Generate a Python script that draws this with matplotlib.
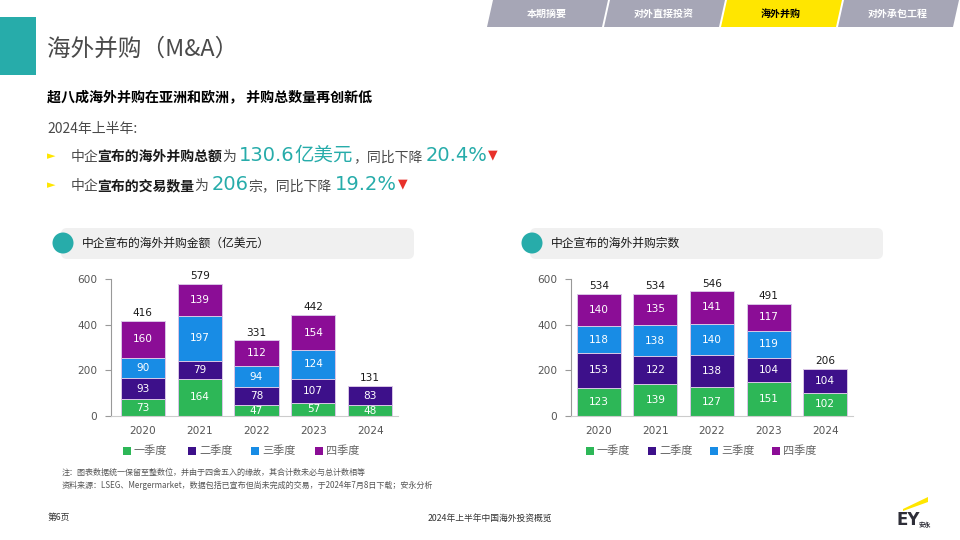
import matplotlib
matplotlib.use("Agg")
import matplotlib.pyplot as plt
from matplotlib.patches import Polygon, Rectangle, FancyBboxPatch, Circle

plt.rcParams['font.family'] = ['Noto Sans CJK SC', 'DejaVu Sans']

# data
years = ['2020', '2021', '2022', '2023', '2024']
quarters = ['一季度', '二季度', '三季度', '四季度']
amount_q1 = [73, 164, 47, 57, 48]
amount_q2 = [93, 79, 78, 107, 83]
amount_q3 = [90, 197, 94, 124, 0]
amount_q4 = [160, 139, 112, 154, 0]
amount_total = [416, 579, 331, 442, 131]
deals_q1 = [123, 139, 127, 151, 102]
deals_q2 = [153, 122, 138, 104, 104]
deals_q3 = [118, 138, 140, 119, 0]
deals_q4 = [140, 135, 141, 117, 0]
deals_total = [534, 534, 546, 491, 206]

colors = ['#2DB757', '#3D108A', '#188CE5', '#8B0D96']
TEAL = '#27ACAA'
GRAY = '#4A4A4A'
NUM = ['DejaVu Sans', 'Noto Sans CJK SC']
W, H = 960, 540

fig = plt.figure(figsize=(9.6, 5.4), dpi=100)
bg = fig.add_axes([0, 0, 1, 1])
bg.set_xlim(0, W)
bg.set_ylim(H, 0)
bg.axis('off')
bg.set_zorder(0)

# top tabs
tabs = ['本期摘要', '对外直接投资', '海外并购', '对外承包工程']
for i, name in enumerate(tabs):
    x0 = 487 + i * 117
    active = name == '海外并购'
    fc = '#FFE600' if active else '#A6A6B6'
    bg.add_patch(Polygon([(x0, 27), (x0 + 115, 27), (x0 + 121, 0), (x0 + 6, 0)],
                         closed=True, facecolor=fc, edgecolor='none'))
    bg.text(x0 + 60, 14, name, ha='center', va='center', fontsize=7.2,
            fontweight='bold', color='black' if active else 'white')

# title block
bg.add_patch(Rectangle((0, 17), 36, 58, facecolor=TEAL, edgecolor='none'))
bg.text(47, 49, '海外并购（M&A）', ha='left', va='center', fontsize=17, color=GRAY)
bg.text(47, 97, '超八成海外并购在亚洲和欧洲， 并购总数量再创新低', ha='left', va='center',
        fontsize=10.1, fontweight='bold', color='black')
bg.text(47, 129, '2024年上半年:', ha='left', va='center', fontsize=10, color=GRAY)

renderer = fig.canvas.get_renderer()

norm = dict(fontsize=10, color=GRAY)
bold = dict(fontsize=10, color='#1A1A1A', fontweight='bold')
big = dict(fontsize=14, color=TEAL, family=NUM)
red = dict(fontsize=9, color='#E8312A', family=['DejaVu Sans'])

for yy in (156, 185):
    bg.text(47, yy, '►', ha='left', va='center', fontsize=8, color='#FFE600',
            family=['DejaVu Sans'])

# bullet lines with mixed styles, laid out piece by piece
for y0, parts in [
        (161, [('中企', norm, -1), ('宣布的海外并购总额', bold, -0.5), ('为', norm, 3),
               ('130.6', big, 0), ('亿美元', big, 0), ('，同比下降', norm, 3),
               ('20.4%', big, 1)]),
        (190, [('中企', norm, -1), ('宣布的交易数量', bold, -0.5), ('为', norm, 3),
               ('206', big, 0), ('宗，同比下降', norm, 3), ('19.2%', big, 1)])]:
    x = 71
    for s, kw, dx in parts:
        t = bg.text(x, y0, s, ha='left', va='baseline', **kw)
        x += t.get_window_extent(renderer).width + dx
    bg.text(x, y0 - 6, '▼', ha='left', va='center', **red)

# section cards
for x0, x1, cx, title in [(61, 414, 63, '中企宣布的海外并购金额（亿美元）'),
                          (530, 883, 532, '中企宣布的海外并购宗数')]:
    bg.add_patch(FancyBboxPatch((x0, 228), x1 - x0, 31,
                                boxstyle='round,pad=0,rounding_size=6',
                                facecolor='#F0F0F0', edgecolor='none'))
    bg.add_patch(Circle((cx, 243), 10.5, facecolor=TEAL, edgecolor='none'))
    bg.text(cx + 19, 243, title, ha='left', va='center', fontsize=8.5, color='#1A1A1A')


def stacked(rect, xlim, series, totals, legend_x):
    ax = fig.add_axes(rect)
    ax.set_zorder(1)
    ax.patch.set_alpha(0)
    xs = list(range(len(years)))
    bottom = [0] * len(years)
    for vals, col in zip(series, colors):
        ax.bar(xs, vals, 0.775, bottom=bottom, color=col, edgecolor='#D9C6E6',
               linewidth=0.7)
        for i, v in enumerate(vals):
            if v > 0:
                ax.text(i, bottom[i] + v / 2, str(v), ha='center', va='center',
                        fontsize=7.6, color='white', family=NUM)
        bottom = [b + v for b, v in zip(bottom, vals)]
    for i, t in enumerate(totals):
        ax.text(i, t + 12, str(t), ha='center', va='bottom', fontsize=7.6,
                color='#1A1A1A', clip_on=False, family=NUM)
    ax.set_xlim(*xlim)
    ax.set_ylim(0, 600)
    ax.set_yticks([0, 200, 400, 600])
    ax.set_xticks(xs)
    ax.set_xticklabels(years, family=NUM)
    for lab in ax.get_yticklabels():
        lab.set_family(NUM)
    ax.tick_params(axis='y', length=4, color='#999999', labelsize=7.6,
                   labelcolor='#555555', pad=6)
    ax.tick_params(axis='x', length=0, labelsize=7.6, labelcolor='#555555', pad=7)
    for s in ('top', 'right'):
        ax.spines[s].set_visible(False)
    ax.spines['left'].set_color('#999999')
    ax.spines['bottom'].set_color('#CCCCCC')
    for lx, q, col in zip(legend_x, quarters, colors):
        bg.add_patch(Rectangle((lx - 4, 447), 8, 8, facecolor=col, edgecolor='none'))
        bg.text(lx + 7, 451, q, ha='left', va='center', fontsize=8, color='#666666')
    return ax


stacked([111 / W, 1 - 416 / H, 287 / W, 137 / H], (-0.56, 4.49),
        [amount_q1, amount_q2, amount_q3, amount_q4], amount_total,
        [127, 192, 255, 319])
stacked([571 / W, 1 - 416 / H, 282 / W, 137 / H], (-0.49, 4.49),
        [deals_q1, deals_q2, deals_q3, deals_q4], deals_total,
        [590, 652, 714, 776])

# footnotes
bg.text(62, 472, '注：图表数据统一保留至整数位，并由于四舍五入的缘故，其合计数未必与总计数相等',
        ha='left', va='center', fontsize=5.8, color='#555555')
bg.text(62, 485, '资料来源：LSEG、Mergermarket，数据包括已宣布但尚未完成的交易，于2024年7月8日下载；安永分析',
        ha='left', va='center', fontsize=5.8, color='#555555')
bg.text(48, 517, '第6页', ha='left', va='center', fontsize=6.3, color='#333333')
bg.text(490, 518, '2024年上半年中国海外投资概览', ha='center', va='center',
        fontsize=6.3, color='#333333')

# EY logo
bg.add_patch(Polygon([(903, 509), (928, 497), (928, 502), (903, 511)], closed=True,
                     facecolor='#FFE600', edgecolor='none'))
bg.text(897, 520, 'EY', ha='left', va='center', fontsize=12, fontweight='bold',
        color='#2E2E38', family=['DejaVu Sans'])
bg.text(919, 524, '安永', ha='left', va='center', fontsize=4.5, fontweight='bold',
        color='#2E2E38')

fig.savefig('out.png', dpi=100)
